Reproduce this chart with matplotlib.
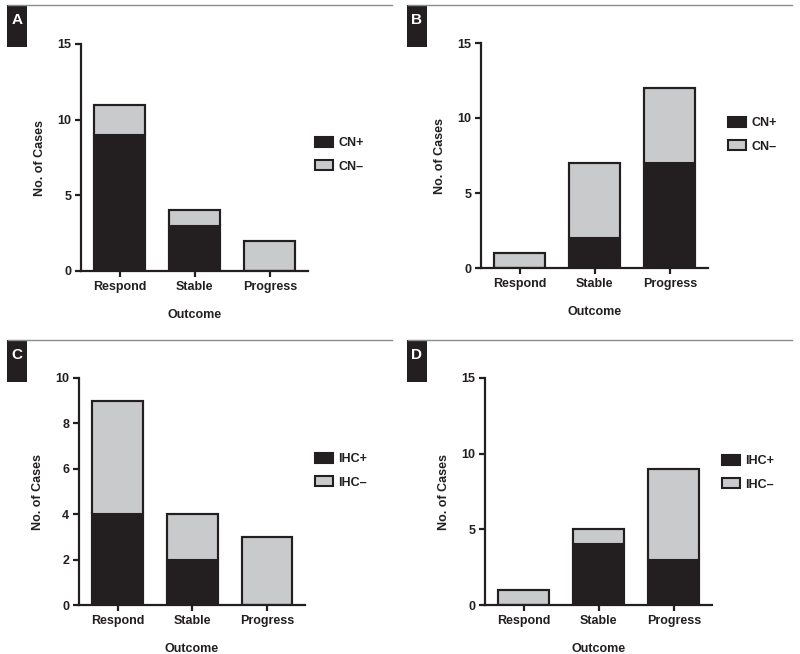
import matplotlib
matplotlib.use("Agg")
import matplotlib.pyplot as plt
from matplotlib.patches import Rectangle, Patch
import numpy as np

plt.rcParams['font.family'] = ['Liberation Sans', 'DejaVu Sans']

categories = ["Respond", "Stable", "Progress"]

a_pos = [9, 3, 0]
a_neg = [2, 1, 2]
b_pos = [0, 2, 7]
b_neg = [1, 5, 5]
c_pos = [4, 2, 0]
c_neg = [5, 2, 3]
d_pos = [0, 4, 3]
d_neg = [1, 1, 6]

cn_labels = ["CN+", "CN\u2013"]
ihc_labels = ["IHC+", "IHC\u2013"]

BLACK = "#231f20"
GRAY = "#c9cacb"

W, H = 800, 654
fig = plt.figure(figsize=(8, 6.54), dpi=100)

def fx(px):
    return px / W

def fy(py):
    return 1 - py / H

panels = [
    ("A", a_pos, a_neg, cn_labels, 15, [0, 5, 10, 15], (81, 308, 44, 271), (315, 137), (8, 392, 5), (7, 27, 5, 47)),
    ("B", b_pos, b_neg, cn_labels, 15, [0, 5, 10, 15], (481, 708, 43, 268), (728, 117), (408, 792, 5), (407, 427, 5, 47)),
    ("C", c_pos, c_neg, ihc_labels, 10, [0, 2, 4, 6, 8, 10], (79, 305, 378, 605), (315, 453), (8, 392, 340), (7, 27, 340, 382)),
    ("D", d_pos, d_neg, ihc_labels, 15, [0, 5, 10, 15], (485, 712, 378, 605), (722, 455), (408, 792, 340), (407, 427, 340, 382)),
]

x = np.arange(len(categories))
for letter, pos, neg, labels, ymax, yticks, (l, r, t, b), (lx, ly), (x0, x1, yl), (bx0, bx1, by0, by1) in panels:
    ax = fig.add_axes([fx(l), fy(b), fx(r - l), fy(t) - fy(b)])
    ax.bar(x, pos, width=0.68, color=BLACK, edgecolor=BLACK, linewidth=1.5, label=labels[0], zorder=2)
    ax.bar(x, neg, bottom=pos, width=0.68, color=GRAY, edgecolor=BLACK, linewidth=1.5, label=labels[1], zorder=2)
    tot = np.array(pos) + np.array(neg)
    ax.bar(x, tot, width=0.68, fill=False, edgecolor=BLACK, linewidth=1.5, zorder=3)
    ax.set_xlim(-0.52, 2.51)
    ax.set_ylim(0, ymax)
    ax.set_yticks(yticks)
    ax.set_xticks(x)
    ax.set_xticklabels(categories)
    for s in ["top", "right"]:
        ax.spines[s].set_visible(False)
    for s in ["left", "bottom"]:
        ax.spines[s].set_linewidth(1.6)
        ax.spines[s].set_color(BLACK)
    ax.tick_params(axis="both", direction="out", length=4, width=1.6, color=BLACK,
                   labelsize=9, pad=3, labelcolor=BLACK)
    for lab in ax.get_xticklabels() + ax.get_yticklabels():
        lab.set_fontweight("bold")
    ax.set_ylabel("No. of Cases", fontsize=9, fontweight="bold", color=BLACK, labelpad=8)
    ax.set_xlabel("Outcome", fontsize=9, fontweight="bold", color=BLACK, labelpad=12)
    handles = [Patch(facecolor=BLACK, edgecolor=BLACK, linewidth=1.5, label=labels[0]),
               Patch(facecolor=GRAY, edgecolor=BLACK, linewidth=1.5, label=labels[1])]
    leg = fig.legend(handles=handles, loc="upper left", bbox_to_anchor=(fx(lx), fy(ly)),
                     frameon=False, handlelength=1.45, handleheight=0.8,
                     handletextpad=0.4, labelspacing=0.9, borderpad=0, borderaxespad=0,
                     prop={"weight": "bold", "size": 9})
    for txt in leg.get_texts():
        txt.set_color(BLACK)
    fig.add_artist(plt.Line2D([fx(x0), fx(x1)], [fy(yl), fy(yl)], transform=fig.transFigure,
                              color="#8c8c8c", linewidth=1.0))
    fig.add_artist(Rectangle((fx(bx0), fy(by1)), fx(bx1 - bx0), fy(by0) - fy(by1),
                             transform=fig.transFigure, facecolor=BLACK, edgecolor="none"))
    fig.text(fx((bx0 + bx1) / 2), fy(by0 + 15), letter, color="white", fontsize=11,
             fontweight="bold", ha="center", va="center")

fig.savefig("out.png", dpi=100)
